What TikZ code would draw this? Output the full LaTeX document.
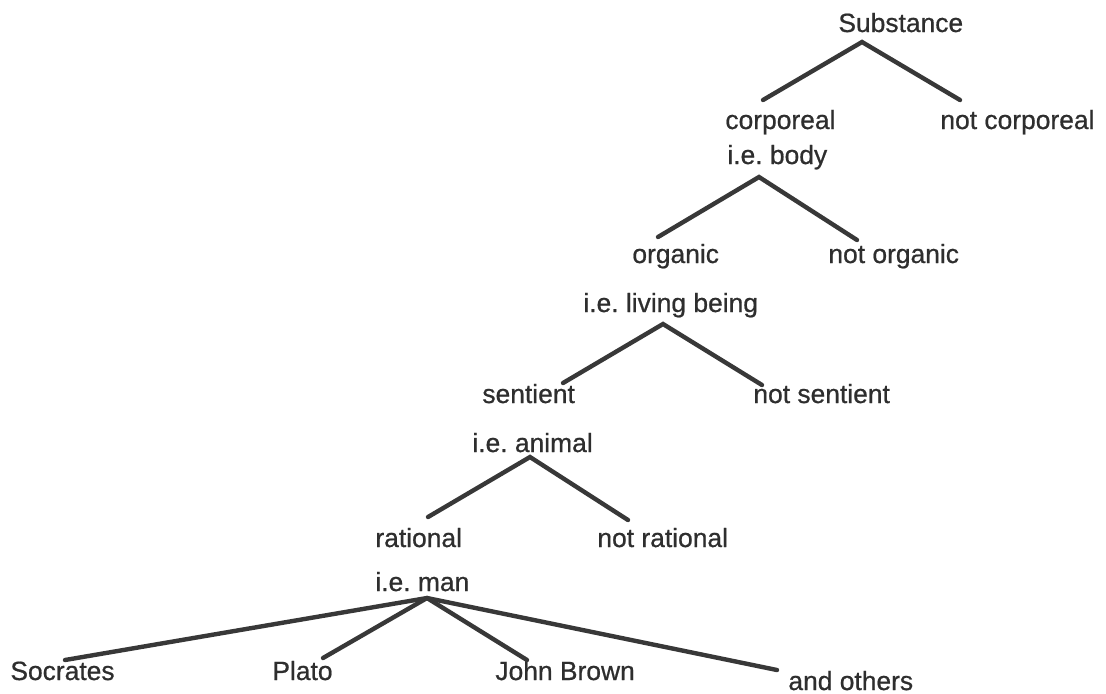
\documentclass[tikz,border=0pt]{standalone}
\usepackage{fontspec}
\setmainfont{Liberation Sans}
\newfontfamily\scanfont[FakeBold=0.7]{Liberation Sans}
\usepackage{tikz}
\frenchspacing

\begin{document}
\begin{tikzpicture}[
    x=0.5pt,y=-0.5pt,
    word/.style={anchor=base west, inner sep=0pt, text=black!82,
      font=\scanfont\fontsize{13.2}{15}\selectfont},
    line/.style={line width=2.2pt, black!78, line cap=round}
    ]
    \useasboundingbox (0, 0) rectangle (1106, 693);
    \node[word] (sub) at (838, 32) {Substance};
    \node[word] (corp) at (725, 129) {corporeal};
    \node[word] (ncorp) at (940, 129) {not corporeal};
    \node[word] (body) at (727, 164) {i.e. body};
    \node[word] (org) at (632, 263) {organic};
    \node[word] (norg) at (828, 263) {not organic};
    \node[word] (living) at (583, 312) {i.e. living being};
    \node[word] (sent) at (482, 403) {sentient};
    \node[word] (nsent) at (753, 403) {not sentient};
    \node[word] (animal) at (472, 452) {i.e. animal};
    \node[word] (rat) at (375, 547) {rational};
    \node[word] (nrat) at (597, 547) {not rational};
    \node[word] (man) at (375, 591) {i.e. man};
    \node[word] (socr) at (10, 680) {Socrates};
    \node[word] (plato) at (272, 680) {Plato};
    \node[word] (john) at (495, 680) {John Brown};
    \node[word] (others) at (788, 690) {and others};
    \draw[line] ([shift={(38,-29)}]corp.base west) -- ([shift={(24,10)}]sub.base west)
      -- ([shift={(20,-29)}]ncorp.base west);
    \draw[line] ([shift={(26,-26)}]org.base west) -- ([shift={(32,13)}]body.base west)
      -- ([shift={(29,-23)}]norg.base west);
    \draw[line] ([shift={(81,-20)}]sent.base west) -- ([shift={(80,12)}]living.base west)
      -- ([shift={(9,-18)}]nsent.base west);
    \draw[line] ([shift={(53,-30)}]rat.base west) -- ([shift={(58,5)}]animal.base west)
      -- ([shift={(31,-27)}]nrat.base west);
    \draw[line] ([shift={(52,7)}]man.base west) -- ([shift={(55,-20)}]socr.base west);
    \draw[line] ([shift={(52,7)}]man.base west) -- ([shift={(51,-22)}]plato.base west);
    \draw[line] ([shift={(52,7)}]man.base west) -- ([shift={(32,-20)}]john.base west);
    \draw[line] ([shift={(52,7)}]man.base west) -- ([shift={(-11,-20)}]others.base west);
  \end{tikzpicture}
\end{document}
